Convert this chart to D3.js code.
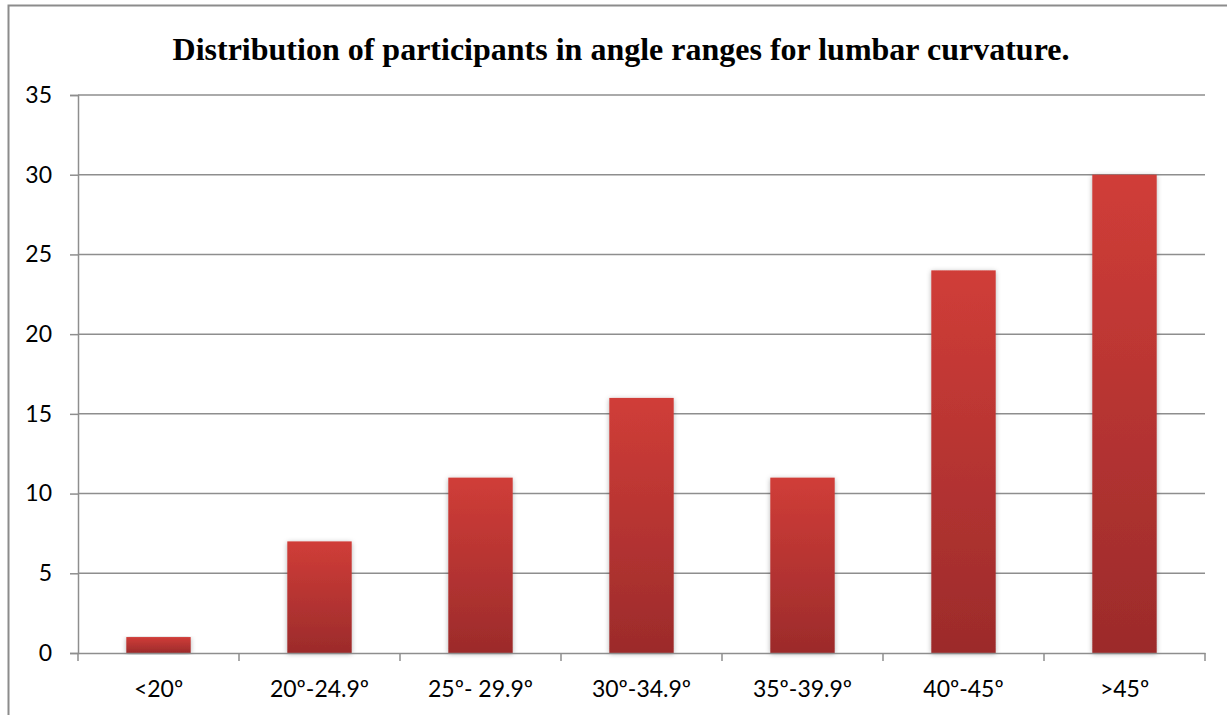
<!DOCTYPE html>
<html>
<head>
<meta charset="utf-8">
<script src="https://cdn.jsdelivr.net/npm/d3@7"></script>
<style>
  html, body { margin: 0; padding: 0; background: #fff; }
  svg { display: block; }
</style>
</head>
<body>
<svg id="chart" width="1227" height="715"></svg>
<script>
const title = "Distribution of participants in angle ranges for lumbar curvature.";
const categories = ["<20º", "20º-24.9º", "25º- 29.9º", "30º-34.9º", "35º-39.9º", "40º-45º", ">45º"];
const values = [1, 7, 11, 16, 11, 24, 30];
const yTicks = [0, 5, 10, 15, 20, 25, 30, 35];

const svg = d3.select("#chart");
const W = 1227, H = 715;
const plot = { left: 78, right: 1205, top: 95, bottom: 653 };

const defs = svg.append("defs");
const grad = defs.append("linearGradient").attr("id", "barGrad")
  .attr("x1", 0).attr("y1", 0).attr("x2", 0).attr("y2", 1);
grad.append("stop").attr("offset", "0%").attr("stop-color", "#d03d38");
grad.append("stop").attr("offset", "100%").attr("stop-color", "#9c2b2b");
const f = defs.append("filter").attr("id", "shadow")
  .attr("x", "-20%").attr("y", "-5%").attr("width", "140%").attr("height", "115%");
f.append("feDropShadow").attr("dx", 0).attr("dy", 1).attr("stdDeviation", 2.5)
  .attr("flood-color", "#000").attr("flood-opacity", 0.3);

// outer border
svg.append("rect").attr("x", 8.5).attr("y", 5.5).attr("width", W + 20).attr("height", H + 20)
  .attr("fill", "#fff").attr("stroke", "#8c8c8c").attr("stroke-width", 2);

// title
svg.append("text").attr("x", 621).attr("y", 60).attr("text-anchor", "middle")
  .attr("font-family", "'Liberation Serif', 'Times New Roman', serif")
  .attr("font-weight", "bold").attr("font-size", 32).attr("fill", "#000")
  .text(title);

const x = d3.scaleBand().domain(categories).range([plot.left, plot.right]).paddingInner(0).paddingOuter(0);
const y = d3.scaleLinear().domain([0, 35]).range([plot.bottom, plot.top]);

// gridlines
svg.append("g").selectAll("line").data(yTicks.filter(d => d > 0)).join("line")
  .attr("x1", plot.left).attr("x2", plot.right)
  .attr("y1", d => y(d)).attr("y2", d => y(d))
  .attr("stroke", "#8e8e8e").attr("stroke-width", 1.5);

// bars
const bw = x.bandwidth() * 0.4;
svg.append("g").selectAll("rect").data(values).join("rect")
  .attr("x", (d, i) => x(categories[i]) + (x.bandwidth() - bw) / 2)
  .attr("y", d => y(d))
  .attr("width", bw)
  .attr("height", d => y(0) - y(d))
  .attr("fill", "url(#barGrad)")
  .attr("filter", "url(#shadow)");

const labelFont = "Lato, 'Open Sans', sans-serif";

// y axis
const yAxis = d3.axisLeft(y).tickValues(yTicks).tickSize(8).tickPadding(18);
const gy = svg.append("g").attr("transform", `translate(${plot.left},0)`).call(yAxis);
gy.select(".domain").attr("stroke", "#8e8e8e").attr("stroke-width", 1.5);
gy.selectAll(".tick line").attr("stroke", "#8e8e8e").attr("stroke-width", 1.5);
gy.selectAll(".tick text").attr("font-family", labelFont).attr("font-size", 23).attr("fill", "#000");

// x axis
const xAxis = d3.axisBottom(x).tickSize(0).tickPadding(28);
const gx = svg.append("g").attr("transform", `translate(0,${plot.bottom})`).call(xAxis);
gx.select(".domain").attr("stroke", "#8e8e8e").attr("stroke-width", 1.5);
gx.selectAll(".tick text").attr("font-family", labelFont).attr("font-size", 23).attr("fill", "#000");
// category boundary ticks
const bounds = categories.map(c => x(c)).concat([plot.right]);
svg.append("g").selectAll("line").data(bounds).join("line")
  .attr("x1", d => d).attr("x2", d => d)
  .attr("y1", plot.bottom).attr("y2", plot.bottom + 8)
  .attr("stroke", "#8e8e8e").attr("stroke-width", 1.5);
</script>
</body>
</html>
